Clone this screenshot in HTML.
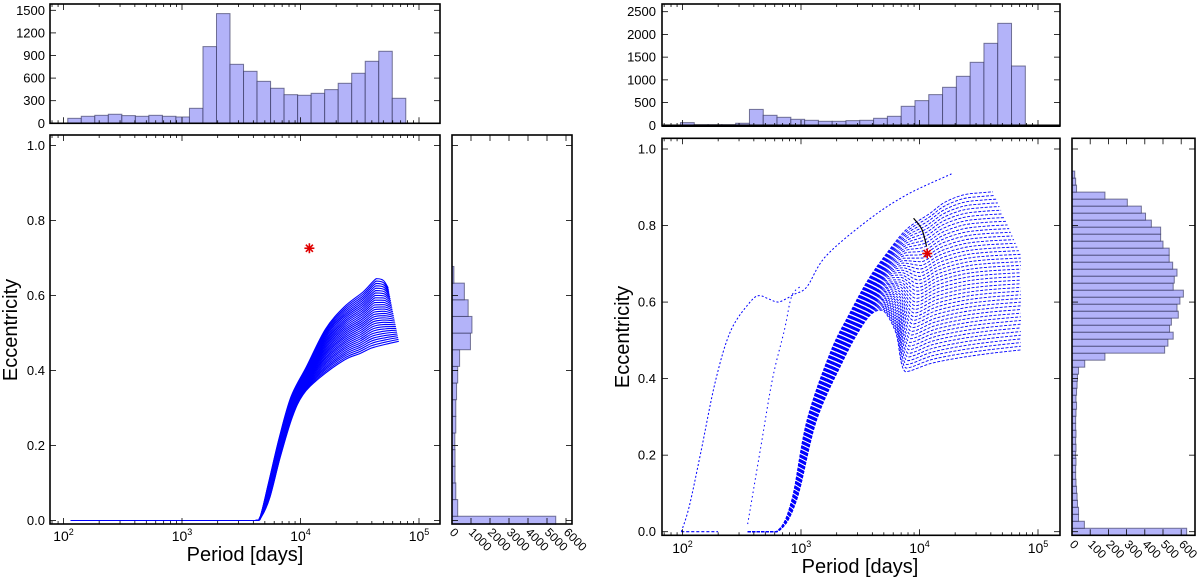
<!DOCTYPE html>
<html><head><meta charset="utf-8">
<style>
html,body{margin:0;padding:0;background:#fff;}
svg{display:block;font-family:"Liberation Sans","DejaVu Sans",sans-serif;}
</style></head>
<body>
<svg id="fig" width="1200" height="579" viewBox="0 0 1200 579" xmlns="http://www.w3.org/2000/svg">
<defs>
<clipPath id="clipL"><rect x="50" y="135" width="390" height="389"/></clipPath>
<clipPath id="clipR"><rect x="662" y="138.3" width="398" height="397"/></clipPath>
</defs>
</svg>
<script>
// ---------- data ----------
const leftPeriodBinStart = 2.036;
const leftPeriodBinWidth = 0.1141;
const leftPeriodCounts = [66,93,106,120,102,93,106,93,84,199,1018,1456,783,690,557,465,380,372,398,447,531,664,823,956,332];
const leftEccBinStart = -0.033;
const leftEccBinWidth = 0.0444;
const leftEccCounts = [5460,300,200,160,160,150,200,200,240,300,400,970,1050,850,650,100];
const leftTopLogP = [2.06,3.62,3.66,3.73,3.82,3.92,4.05,4.21,4.37,4.53,4.64,4.70,4.74];
const leftTopEcc  = [0,0,0.01,0.10,0.22,0.33,0.41,0.51,0.57,0.61,0.645,0.64,0.62];
const leftBotLogP = [2.06,3.62,3.67,3.74,3.83,3.93,4.02,4.16,4.37,4.50,4.60,4.72,4.83];
const leftBotEcc  = [0,0,0.01,0.06,0.17,0.275,0.335,0.38,0.428,0.445,0.46,0.47,0.478];
const leftTrackCount = 30;
const leftStarLogP = 4.075, leftStarEcc = 0.726;

const rightPeriodBinStart = 1.983;
const rightPeriodBinWidth = 0.1164;
const rightPeriodCounts = [59,15,15,15,45,350,220,176,132,110,88,88,103,110,154,198,418,543,675,836,1078,1386,1804,2244,1305];
const rightEccBinStart = -0.0093;
const rightEccBinWidth = 0.0183;
const rightEccCounts = [630,68,36,36,30,28,25,22,20,20,22,20,22,20,22,20,20,22,25,22,25,28,30,36,70,181,509,527,556,536,546,584,577,593,612,556,562,577,553,534,534,500,487,487,436,404,381,304,181,25,20,15];
const rightTopLogP = [2.55,2.79,2.92,3.05,3.25,3.41,3.57,3.73,3.89,4.08,4.21,4.37,4.53,4.62];
const rightTopEcc  = [0,0,0.08,0.29,0.47,0.57,0.66,0.73,0.79,0.83,0.86,0.88,0.886,0.888];
const rightBotLogP = [2.55,2.80,2.96,3.13,3.36,3.50,3.60,3.69,3.80,3.88,4.10,4.35,4.60,4.855];
const rightBotEcc  = [0,0,0.08,0.29,0.45,0.53,0.57,0.579,0.52,0.418,0.44,0.455,0.466,0.475];
const rightTrackCount = 44;
const branchALogP = [1.99,2.056,2.153,2.28,2.41,2.584,2.65,2.73,2.81,2.94,3.05,3.21,3.57,3.89,4.27];
const branchAEcc  = [0,0.065,0.205,0.396,0.527,0.605,0.617,0.608,0.60,0.62,0.64,0.72,0.815,0.88,0.935];
const branchBLogP = [2.55,2.66,2.76,2.86,2.92,2.99];
const branchBEcc  = [0.02,0.22,0.40,0.527,0.614,0.64];
const flatLogP = [1.99,2.30];
const flatEcc = [0,0];
const pathLogP = [3.95,4.02,4.06];
const pathEcc = [0.819,0.79,0.745];
const rightStarLogP = 4.065, rightStarEcc = 0.727;

// ---------- helpers ----------
const NS = "http://www.w3.org/2000/svg";
const svg = document.getElementById('fig');
function el(tag, attrs, name, parent){
  const e = document.createElementNS(NS, tag);
  for (const k in attrs) e.setAttribute(k, attrs[k]);
  
  
  (parent || svg).appendChild(e);
  return e;
}
function txt(x,y,s,size,anchor,name,extra){
  const t = el('text', Object.assign({x:x,y:y,'font-size':size,'text-anchor':anchor||'middle',fill:'#000'}, extra||{}), name);
  t.textContent = s;
  return t;
}
function pow10Label(x,y,exp,name){
  const t = el('text',{x:x,y:y,'font-size':14,'text-anchor':'middle',fill:'#000'},name);
  t.appendChild(document.createTextNode('10'));
  const sp = document.createElementNS(NS,'tspan');
  sp.setAttribute('dy','-6'); sp.setAttribute('font-size','9');
  sp.textContent = exp;
  t.appendChild(sp);
}
function frame(x0,y0,x1,y1,name){
  el('rect',{x:x0,y:y0,width:x1-x0,height:y1-y0,fill:'none',stroke:'#000','stroke-width':1.6},name);
}
function logTicks(X,x0,x1,yTop,yBot,name){
  const g = el('g',{stroke:'#000','stroke-width':0.8},name);
  for (let d=1; d<=5; d++){
    for (let k=1;k<=9;k++){
      const lp = d + Math.log10(k);
      const x = X(lp);
      if (x<=x0+0.5||x>=x1-0.5) continue;
      const L = k===1?6:3;
      el('line',{x1:x,y1:yTop,x2:x,y2:yTop+L},'x-tick-top',g);
      el('line',{x1:x,y1:yBot,x2:x,y2:yBot-L},'x-tick-bottom',g);
    }
  }
}
function yTicks(Y,vals,x0,x1,name,labelFmt,labelX){
  const g = el('g',{stroke:'#000','stroke-width':0.8},name);
  vals.forEach(v=>{
    const y = Y(v);
    el('line',{x1:x0,y1:y,x2:x0+6,y2:y},'y-tick-left',g);
    el('line',{x1:x1,y1:y,x2:x1-6,y2:y},'y-tick-right',g);
    if (labelFmt) txt(labelX,y+4.5,labelFmt(v),13,'end','y-tick-label');
  });
}
const clamp = (v,a,b) => Math.max(Math.min(a,b), Math.min(Math.max(a,b), v));
// smooth curve through data points (Catmull-Rom, control points clamped to avoid overshoot)
function curve(lp,ec,X,Y,attrs,name,parent){
  const P = lp.map((p,i)=>[X(p),Y(ec[i])]);
  let d = 'M'+P[0][0].toFixed(2)+','+P[0][1].toFixed(2);
  for (let i=0;i<P.length-1;i++){
    const p0 = P[Math.max(0,i-1)], p1 = P[i], p2 = P[i+1], p3 = P[Math.min(P.length-1,i+2)];
    const c1x = clamp(p1[0]+(p2[0]-p0[0])/6,p1[0],p2[0]), c1y = clamp(p1[1]+(p2[1]-p0[1])/6,p1[1],p2[1]);
    const c2x = clamp(p2[0]-(p3[0]-p1[0])/6,p1[0],p2[0]), c2y = clamp(p2[1]-(p3[1]-p1[1])/6,p1[1],p2[1]);
    d += ' C'+c1x.toFixed(2)+','+c1y.toFixed(2)+' '+c2x.toFixed(2)+','+c2y.toFixed(2)+' '+p2[0].toFixed(2)+','+p2[1].toFixed(2);
  }
  return el('path',Object.assign({d:d,fill:'none'},attrs),name,parent);
}
function star(cx,cy,name){
  const g = el('g',{stroke:'#e00000','stroke-width':1.6},name);
  for (let a=0;a<4;a++){
    const t = a*Math.PI/4;
    el('line',{x1:cx-5*Math.cos(t),y1:cy-5*Math.sin(t),x2:cx+5*Math.cos(t),y2:cy+5*Math.sin(t)},'star-stroke',g);
  }
}
const barFill = '#b3b3f9', barStroke = 'rgba(40,40,80,0.6)';

// ---------- LEFT PANEL ----------
const LX = lp => 63.5 + (lp-2)*118.5;
const LY = e => 520.5 - e*375;
const LYH = c => 123.3 - c*113/1500;
const LSX = c => 452 + c*0.019;

const lth = el('g',{},'left-period-histogram');
leftPeriodCounts.forEach((c,i)=>{
  const a = LX(leftPeriodBinStart+i*leftPeriodBinWidth), b = LX(leftPeriodBinStart+(i+1)*leftPeriodBinWidth);
  el('rect',{x:a,y:LYH(c),width:b-a,height:LYH(0)-LYH(c),fill:barFill,stroke:barStroke,'stroke-width':1},'period-bar',lth);
});
frame(50,4,440,123.3,'left-top-hist-frame');
logTicks(LX,50,440,4,123.3,'left-top-hist-x-ticks');
yTicks(LYH,[0,300,600,900,1200,1500],50,440,'left-top-hist-y-ticks',v=>String(v),45);

const lm = el('g',{'clip-path':'url(#clipL)'},'left-tracks');
for (let j=0;j<leftTrackCount;j++){
  const t = j/(leftTrackCount-1);
  const lp = leftTopLogP.map((p,i)=>p+(leftBotLogP[i]-p)*t);
  const ec = leftTopEcc.map((v,i)=>v+(leftBotEcc[i]-v)*t);
  curve(lp,ec,LX,LY,{stroke:'#0000ff','stroke-width':1.1},'evolution-track',lm);
}
star(LX(leftStarLogP),LY(leftStarEcc),'left-observed-star');
frame(50,135,440,524,'left-main-frame');
logTicks(LX,50,440,135,524,'left-main-x-ticks');
yTicks(LY,[0,0.2,0.4,0.6,0.8,1.0],50,440,'left-main-y-ticks',v=>v.toFixed(1),45);
[2,3,4,5].forEach(d=>pow10Label(LX(d),541,String(d),'x-tick-label'));
txt(245,561,'Period [days]',20,'middle','left-x-axis-title');
txt(0,0,'Eccentricity',20,'middle','left-y-axis-title',{transform:'translate(17,330) rotate(-90)'});

const lsh = el('g',{},'left-ecc-histogram');
leftEccCounts.forEach((c,i)=>{
  const yA = LY(leftEccBinStart+i*leftEccBinWidth), yB = LY(leftEccBinStart+(i+1)*leftEccBinWidth);
  el('rect',{x:LSX(0),y:yB,width:LSX(c)-LSX(0),height:yA-yB,fill:barFill,stroke:barStroke,'stroke-width':1},'ecc-bar',lsh);
});
el('rect',{x:440.8,y:524.8,width:140,height:30,fill:'#fff'},'left-side-clip-mask');
frame(452,135,572,524,'left-side-frame');
yTicks(LY,[0,0.2,0.4,0.6,0.8,1.0],452,572,'left-side-y-ticks',null,0);
{
  const g = el('g',{stroke:'#000','stroke-width':0.8},'left-side-x-ticks');
  [0,1000,2000,3000,4000,5000,6000].forEach(v=>{
    const x = LSX(v);
    el('line',{x1:x,y1:135,x2:x,y2:141},'x-tick-top',g);
    el('line',{x1:x,y1:524,x2:x,y2:518},'x-tick-bottom',g);
    txt(0,0,String(v),12,'start','side-x-tick-label',{transform:`translate(${x-3},${533}) rotate(45)`});
  });
}

// ---------- RIGHT PANEL ----------
const RX = lp => 682.5 + (lp-2)*118.5;
const RY = e => 531.7 - e*382.7;
const RYH = c => 125.3 - c*113.6/2500;
const RSX = c => 1072 + c*0.182;

const rth = el('g',{},'right-period-histogram');
rightPeriodCounts.forEach((c,i)=>{
  const a = RX(rightPeriodBinStart+i*rightPeriodBinWidth), b = RX(rightPeriodBinStart+(i+1)*rightPeriodBinWidth);
  el('rect',{x:a,y:RYH(c),width:b-a,height:RYH(0)-RYH(c),fill:barFill,stroke:barStroke,'stroke-width':1},'period-bar',rth);
});
frame(662,4,1060,126,'right-top-hist-frame');
el('line',{x1:662,y1:125.8,x2:1060,y2:125.8,stroke:'#000','stroke-width':2.5},'right-top-hist-baseline');
logTicks(RX,662,1060,4,126,'right-top-hist-x-ticks');
yTicks(RYH,[0,500,1000,1500,2000,2500],662,1060,'right-top-hist-y-ticks',v=>String(v),656);

const rm = el('g',{'clip-path':'url(#clipR)'},'right-tracks');
for (let j=0;j<rightTrackCount;j++){
  const t = j/(rightTrackCount-1);
  const lp = rightTopLogP.map((p,i)=>p+(rightBotLogP[i]-p)*t);
  const ec = rightTopEcc.map((v,i)=>v+(rightBotEcc[i]-v)*t);
  const n = lp.length-1;
  lp[n] = t>=0.4 ? rightBotLogP[n] : rightTopLogP[n]+(rightBotLogP[n]-rightTopLogP[n])*(t/0.4);
  curve(lp,ec,RX,RY,{stroke:'#0000ff','stroke-width':0.9,'stroke-dasharray':'3 1.5'},'evolution-track',rm);
}
curve(branchALogP,branchAEcc,RX,RY,{stroke:'#0000ff','stroke-width':1,'stroke-dasharray':'2 2'},'thin-branch-upper',rm);
curve(branchBLogP,branchBEcc,RX,RY,{stroke:'#0000ff','stroke-width':1,'stroke-dasharray':'1.5 3'},'thin-branch-middle',rm);
curve(flatLogP,flatEcc,RX,RY,{stroke:'#0000ff','stroke-width':1.2,'stroke-dasharray':'3 2'},'flat-branch',rm);
curve(pathLogP,pathEcc,RX,RY,{stroke:'#000','stroke-width':1.2},'observed-path',rm);
star(RX(rightStarLogP),RY(rightStarEcc),'right-observed-star');
frame(662,138.3,1060,535.3,'right-main-frame');
logTicks(RX,662,1060,138.3,535.3,'right-main-x-ticks');
yTicks(RY,[0,0.2,0.4,0.6,0.8,1.0],662,1060,'right-main-y-ticks',v=>v.toFixed(1),656);
[2,3,4,5].forEach(d=>pow10Label(RX(d),553,String(d),'x-tick-label'));
txt(860,573,'Period [days]',20,'middle','right-x-axis-title');
txt(0,0,'Eccentricity',20,'middle','right-y-axis-title',{transform:'translate(629,337) rotate(-90)'});

const rsh = el('g',{},'right-ecc-histogram');
rightEccCounts.forEach((c,i)=>{
  const yA = RY(rightEccBinStart+i*rightEccBinWidth), yB = RY(rightEccBinStart+(i+1)*rightEccBinWidth);
  el('rect',{x:RSX(0),y:yB,width:RSX(c)-RSX(0),height:yA-yB,fill:barFill,stroke:barStroke,'stroke-width':1},'ecc-bar',rsh);
});
frame(1072,138.3,1195,535.3,'right-side-frame');
yTicks(RY,[0,0.2,0.4,0.6,0.8,1.0],1072,1195,'right-side-y-ticks',null,0);
{
  const g = el('g',{stroke:'#000','stroke-width':0.8},'right-side-x-ticks');
  [0,100,200,300,400,500,600].forEach(v=>{
    const x = RSX(v);
    el('line',{x1:x,y1:138.3,x2:x,y2:144.3},'x-tick-top',g);
    el('line',{x1:x,y1:535.3,x2:x,y2:529.3},'x-tick-bottom',g);
    txt(0,0,String(v),12,'start','side-x-tick-label',{transform:`translate(${x-3},${545}) rotate(45)`});
  });
}
</script>
</body></html>
